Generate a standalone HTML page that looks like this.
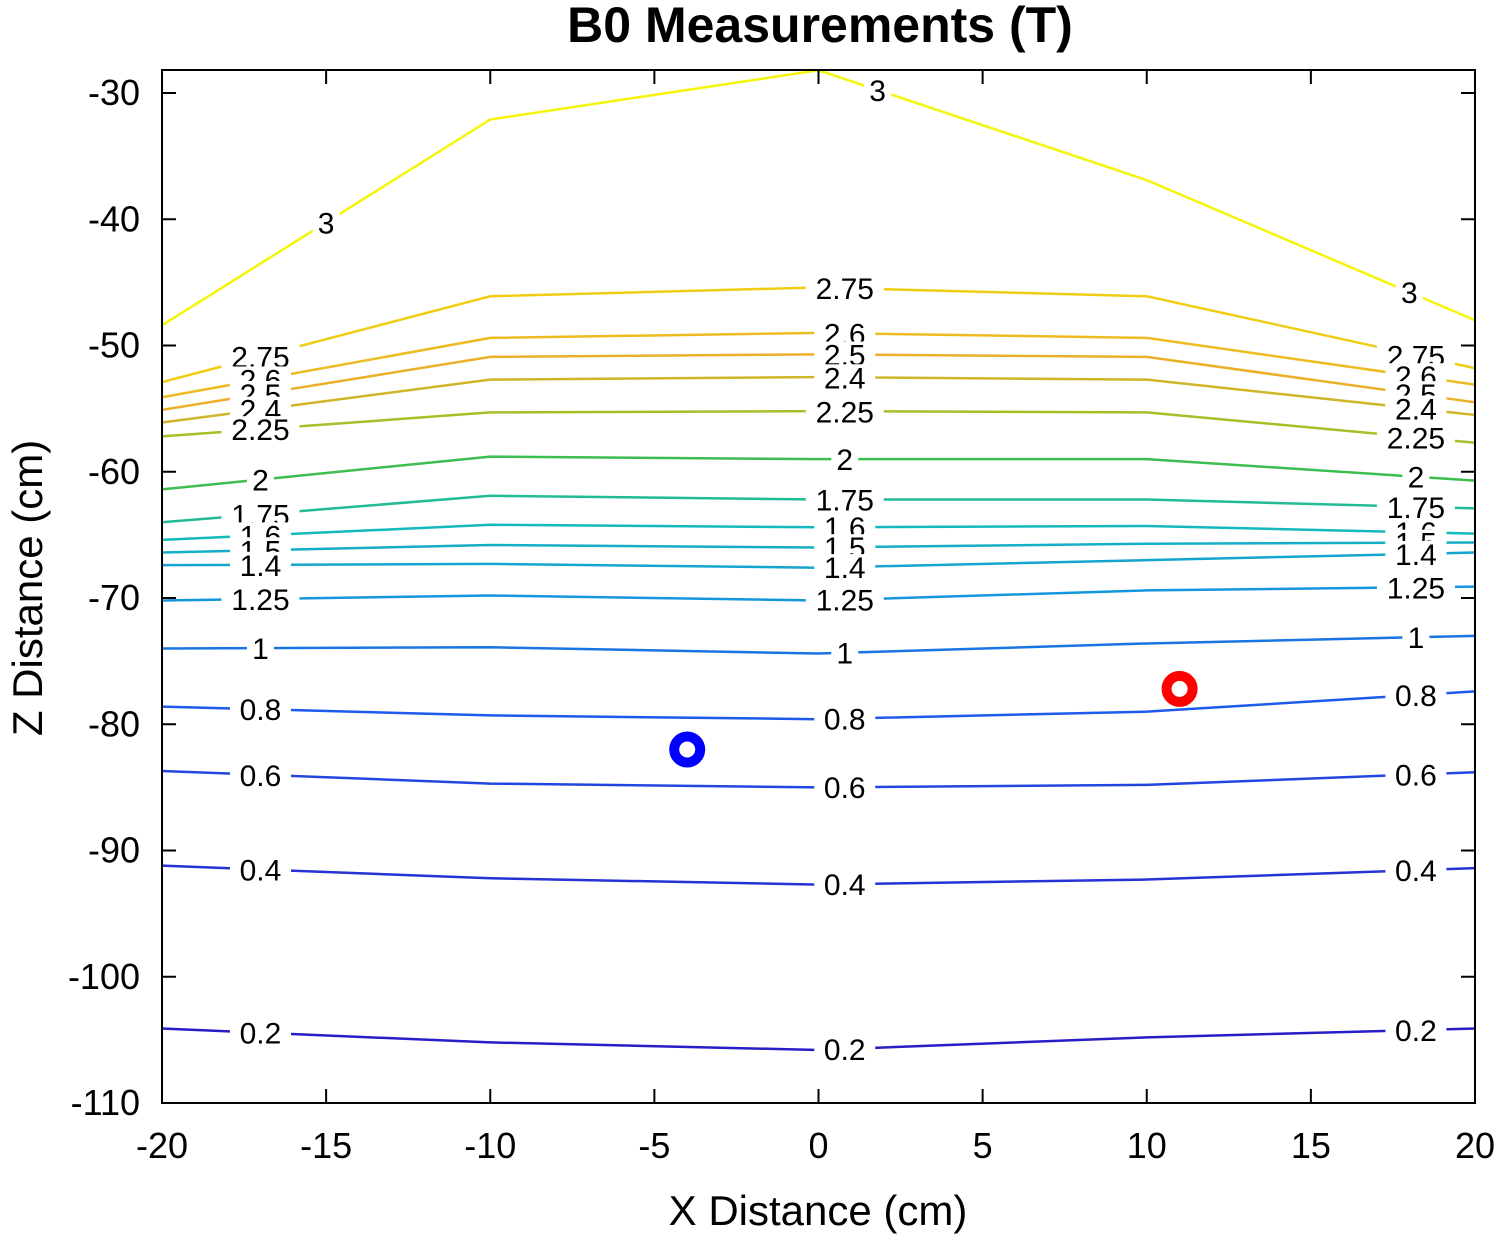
<!DOCTYPE html>
<html><head><meta charset="utf-8"><style>
body{margin:0;background:#fff}
svg{display:block;font-family:"Liberation Sans",sans-serif}
</style></head><body>
<svg id="chart" width="1500" height="1235">
<rect width="1500" height="1235" fill="#fff"/>
<text x="820" y="42" text-anchor="middle" font-size="50" font-weight="bold">B0 Measurements (T)</text>
<g id="plot"></g>
<rect x="162" y="70" width="1313" height="1033" fill="none" stroke="#000" stroke-width="2"/>
<text x="818" y="1225" text-anchor="middle" font-size="42">X Distance (cm)</text>
<text transform="translate(42,588) rotate(-90)" text-anchor="middle" font-size="42">Z Distance (cm)</text>
</svg>
<script>
const xs=[-20,-10,0,10,20];
const levels=[3,2.75,2.6,2.5,2.4,2.25,2,1.75,1.6,1.5,1.4,1.25,1,0.8,0.6,0.4,0.2];
const levelLabels=["3","2.75","2.6","2.5","2.4","2.25","2","1.75","1.6","1.5","1.4","1.25","1","0.8","0.6","0.4","0.2"];
const zs=[
[-48.4,-32.1,-28.2,-36.9,-48.0],
[-52.9,-46.1,-45.4,-46.1,-51.8],
[-54.1,-49.4,-49.0,-49.4,-53.1],
[-55.1,-50.9,-50.7,-50.9,-54.5],
[-56.1,-52.7,-52.5,-52.7,-55.5],
[-57.2,-55.3,-55.2,-55.3,-57.7],
[-61.4,-58.8,-59.0,-59.0,-60.7],
[-64.0,-61.9,-62.2,-62.2,-62.9],
[-65.4,-64.2,-64.4,-64.3,-64.9],
[-66.4,-65.8,-66.0,-65.7,-65.6],
[-67.4,-67.3,-67.6,-67.0,-66.4],
[-70.2,-69.8,-70.2,-69.4,-69.1],
[-74.0,-73.9,-74.4,-73.6,-73.0],
[-78.6,-79.3,-79.6,-79.0,-77.4],
[-83.7,-84.7,-85.0,-84.8,-83.8],
[-91.2,-92.2,-92.7,-92.3,-91.4],
[-104.1,-105.2,-105.8,-104.8,-104.1]];
const labelX=[-17,0.8,18.2];
const labelXTop=[-15,1.8,18];
const xTicks=[-20,-15,-10,-5,0,5,10,15,20];
const yTicks=[-30,-40,-50,-60,-70,-80,-90,-100,-110];
const markerX=[-4,11];
const markerZ=[-82.0,-77.2];
const markerColors=["#0000ff","#ff0000"];

const X0=162,X1=1475,Y0=1103,Y1=70;
const sx=v=>X0+(v+20)/40*(X1-X0);
const sy=v=>93+(-30-v)*12.625;
const NS="http://www.w3.org/2000/svg";
const g=document.getElementById('plot');
function mk(t,a){const e=document.createElementNS(NS,t);for(const k in a)e.setAttribute(k,a[k]);g.appendChild(e);return e;}
function color(l){
  const stops=[[0.2,[40,30,200]],[0.8,[30,90,235]],[1.25,[20,150,220]],[1.6,[20,185,190]],[2,[60,190,80]],[2.25,[170,190,40]],[2.5,[235,175,40]],[2.75,[240,205,20]],[3,[245,245,10]]];
  for(let i=0;i<stops.length-1;i++){const[a,ca]=stops[i],[b,cb]=stops[i+1];if(l<=b){const t=(l-a)/(b-a);return 'rgb('+ca.map((c,j)=>Math.round(c+(cb[j]-c)*t)).join(',')+')';}}
  return 'rgb(245,245,10)';
}
function interp(row,x){for(let i=0;i<xs.length-1;i++){if(x<=xs[i+1]){const t=(x-xs[i])/(xs[i+1]-xs[i]);return row[i]+(row[i+1]-row[i])*t;}}return row[row.length-1];}
levels.forEach((l,i)=>{
  const p=mk('polyline',{points:xs.map((x,j)=>sx(x)+','+sy(zs[i][j])).join(' '),fill:'none',stroke:color(l),'stroke-width':2.5});
  
  
});
levels.forEach((l,i)=>{
  (i===0?labelXTop:labelX).forEach(x=>{
    const px=sx(x),py=sy(interp(zs[i],x));
    const w=levelLabels[i].length*17+10;
    const r=mk('rect',{x:px-w/2,y:py-13,width:w,height:26,fill:'#fff'});
    
    
    const t=mk('text',{x:px,y:py+11,'text-anchor':'middle','font-size':30,fill:'#000'});
    t.textContent=levelLabels[i];
    
    
  });
});
markerX.forEach((x,i)=>{
  const c=mk('circle',{cx:sx(x),cy:sy(markerZ[i]),r:13,fill:'#fff',stroke:markerColors[i],'stroke-width':10});
  
  
});
xTicks.forEach(v=>{
  const px=sx(v);
  const a=mk('line',{x1:px,y1:Y0,x2:px,y2:Y0-14,stroke:'#000','stroke-width':2});
  
  
  const b=mk('line',{x1:px,y1:Y1,x2:px,y2:Y1+14,stroke:'#000','stroke-width':2});
  
  
  const t=mk('text',{x:px,y:1158,'text-anchor':'middle','font-size':36});
  t.textContent=v;
  
  
});
yTicks.forEach(v=>{
  const py=sy(v);
  const a=mk('line',{x1:X0,y1:py,x2:X0+14,y2:py,stroke:'#000','stroke-width':2});
  
  
  const b=mk('line',{x1:X1,y1:py,x2:X1-14,y2:py,stroke:'#000','stroke-width':2});
  
  
  const t=mk('text',{x:140,y:py+12,'text-anchor':'end','font-size':36});
  t.textContent=v;
  
  
});
</script>
</body></html>
